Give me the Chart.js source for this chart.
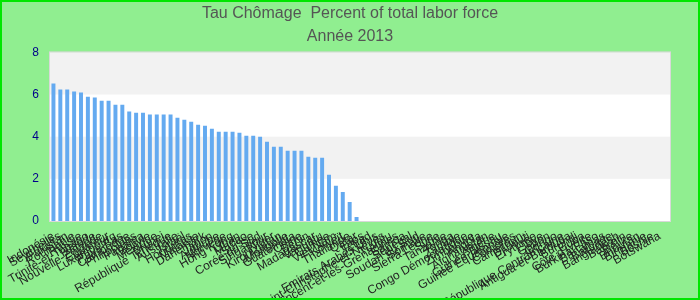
<!DOCTYPE html>
<html><head><meta charset="utf-8">
<script src="https://cdn.jsdelivr.net/npm/chart.js@4"></script>
<style>html,body{margin:0;padding:0;background:#90ee90;}#wrap{width:700px;height:300px;position:relative;}</style>
</head><body><div id="wrap"><canvas id="c" width="700" height="300"></canvas></div>
<script>
const titleLines = ["Tau Chômage  Percent of total labor force", "Année 2013"];
const countries = ["Indonésie","Seychelles","Pakistan","Roumanie","Russie","Trinité-et-Tobago","Islande","Nouvelle-Zélande","Équateur","Luxembourg","Pays-Bas","Cambodge","Philippines","Panama","Bolivie","Mexique","Brunei","République Tchèque","Australie","Israël","Honduras","Malaisie","Danemark","Japon","Autriche","Norvège","Hong Kong","Liban","Macao","Suisse","Corée du Sud","Singapour","Niger","Kirghizistan","Mongolie","Guatemala","Chine","Bénin","Madagascar","Vanuatu","Guinée","Viet Nam","Koweït","Thaïlande","Qatar","Laos","Tchad","Emirats Arabes Unis","Saint-Christophe-et-Niévès","Tuvalu","Saint-Vincent-et-les-Grenadines","Samoa","Sénégal","Soudan du Sud","Somalie","Sierra Leone","Syrie","Tanzanie","Tonga","Zambie","Congo Démocratique","Zimbabwe","Angola","Afghanistan","Algérie","Guinée-Bissau","Guinée Équatoriale","Comores","Cameroun","Djibouti","Érythrée","Libye","Gabon","Congo","République Centrafricaine","Antigua-et-Barbuda","Burundi","Cuba","Côte d'Ivoire","Burkina Faso","Bahamas","Barbade","Bangladesh","Bahreïn","Belize","Bhoutan","Birmanie","Bosnie","Botswana",""];
const values = [6.52,6.24,6.24,6.14,6.10,5.90,5.86,5.71,5.71,5.52,5.52,5.19,5.14,5.14,5.05,5.05,5.05,5.05,4.90,4.81,4.71,4.57,4.52,4.38,4.24,4.24,4.24,4.19,4.05,4.05,4.00,3.76,3.52,3.52,3.33,3.33,3.33,3.05,3.00,3.00,2.19,1.67,1.38,0.90,0.19];
const yTicks = [0,2,4,6,8];

const bandPlugin = {
  id:'bands',
  beforeDraw(chart){
    const {ctx, chartArea:a, scales:{y}} = chart;
    ctx.save();
    ctx.fillStyle = '#90ee90';
    ctx.fillRect(0,0,chart.width,chart.height);
    ctx.fillStyle = '#ffffff';
    ctx.fillRect(a.left,a.top,a.right-a.left,a.bottom-a.top);
    ctx.fillStyle = '#f2f2f2';
    for (let i=0;i<yTicks.length-1;i++){
      if (i%2===1){
        const t=y.getPixelForValue(yTicks[i+1]), b=y.getPixelForValue(yTicks[i]);
        ctx.fillRect(a.left,t,a.right-a.left,b-t);
      }
    }
    ctx.restore();
  },
  afterDraw(chart){
    const {ctx, chartArea:a} = chart;
    ctx.save();
    ctx.strokeStyle = '#d8d8d8';
    ctx.lineWidth = 1;
    ctx.strokeRect(a.left-0.5,a.top-0.5,a.right-a.left+1,a.bottom-a.top+1);
    ctx.strokeStyle = '#00e600';
    ctx.lineWidth = 2;
    ctx.strokeRect(1,1,chart.width-2,chart.height-2);
    ctx.restore();
  }
};

new Chart(document.getElementById('c'), {
  type:'bar',
  data:{labels:countries, datasets:[{data:values, backgroundColor:'#64aaf0', barPercentage:0.72, categoryPercentage:0.8}]},
  options:{
    responsive:false, animation:false,
    layout:{padding:0},
    plugins:{
      legend:{display:false},
      tooltip:{enabled:false},
      title:{display:true, text:titleLines, color:'#555555', font:{family:'Liberation Sans, Arial', size:16, weight:'normal', lineHeight:1.45}, padding:{top:2,bottom:4}}
    },
    scales:{
      x:{
        grid:{display:false}, border:{display:false},
        ticks:{autoSkip:false, maxRotation:30, minRotation:30, color:'#222222', font:{family:'Liberation Sans, Arial', size:12}, padding:0},
        afterFit(s){ s.height = 79; }
      },
      y:{
        min:0, max:8,
        grid:{display:false}, border:{display:false},
        ticks:{stepSize:2, color:'#00008b', font:{family:'Liberation Sans, Arial', size:12}, padding:3},
        afterFit(s){ s.width = 50; }
      },
      yRight:{
        position:'right', min:0, max:8,
        grid:{display:false}, border:{display:false},
        ticks:{display:false},
        afterFit(s){ s.width = 30; }
      }
    }
  },
  plugins:[bandPlugin]
});
</script></body></html>
